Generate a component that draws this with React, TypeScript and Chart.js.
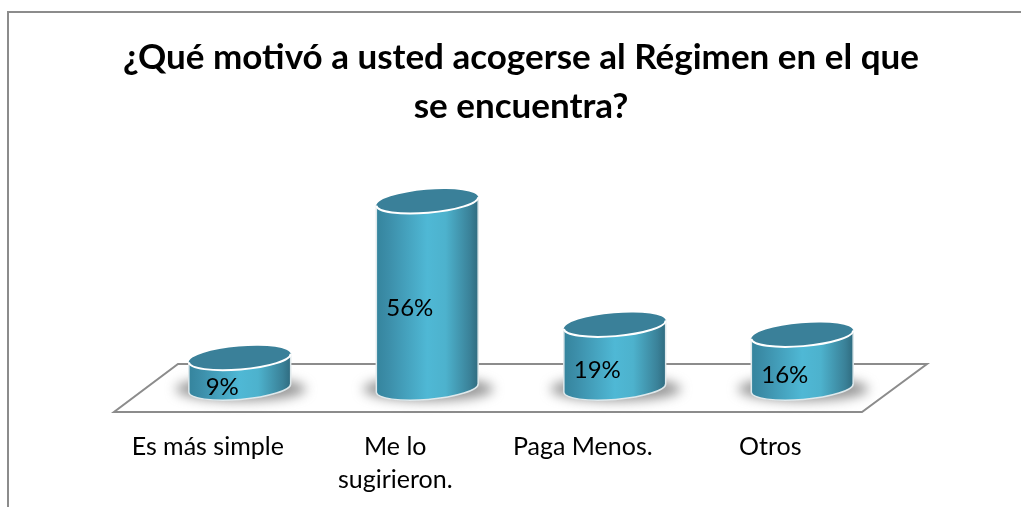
import React, { useEffect, useRef } from "react";
import { Chart, registerables } from "chart.js";

Chart.register(...registerables);

const categories = ["Es más simple", ["Me lo", "sugirieron."], "Paga Menos.", "Otros"];
const percentages = [9, 56, 19, 16];
const titleLines = ["¿Qué motivó a usted acogerse al Régimen en el que", "se encuentra?"];
const FONT = "Lato, 'Open Sans', sans-serif";

const cylinderPlugin = {
  id: "cylinders",
  beforeDatasetsDraw(chart: any) {
    const { ctx, chartArea: a } = chart;
    // frame: open on the right and at the bottom
    ctx.save();
    ctx.strokeStyle = "#8c8c8c";
    ctx.lineWidth = 2;
    ctx.beginPath();
    ctx.moveTo(8, 507);
    ctx.lineTo(8, 12);
    ctx.lineTo(1021, 12);
    ctx.stroke();
    // floor
    ctx.beginPath();
    ctx.moveTo(a.left - 32, a.bottom + 24);
    ctx.lineTo(a.right - 34, a.bottom + 24);
    ctx.lineTo(a.right + 31, a.bottom - 24);
    ctx.lineTo(a.left + 32, a.bottom - 24);
    ctx.closePath();
    ctx.stroke();
    ctx.restore();
  },
  afterDatasetsDraw(chart: any) {
    const { ctx } = chart;
    const meta = chart.getDatasetMeta(0);
    const tilt = (-4.8 * Math.PI) / 180;
    meta.data.forEach((bar: any, i: number) => {
      const cx = bar.x;
      const top = bar.y;
      const bottom = bar.base;
      const rx = bar.width / 2;
      const ry = 11.5;

      // soft floor shadow
      ctx.save();
      ctx.filter = "blur(6px)";
      ctx.fillStyle = "rgba(110,110,110,0.72)";
      ctx.beginPath();
      ctx.ellipse(cx + 1, bottom + 1, rx + 14, 12, 0, 0, Math.PI * 2);
      ctx.fill();
      ctx.restore();

      // body
      const grad = ctx.createLinearGradient(cx - rx, 0, cx + rx, 0);
      grad.addColorStop(0, "#35849d");
      grad.addColorStop(0.12, "#3c8ea9");
      grad.addColorStop(0.5, "#4fb8d5");
      grad.addColorStop(0.68, "#4db2cd");
      grad.addColorStop(0.92, "#3a8198");
      grad.addColorStop(1, "#2f6b7f");
      const dx = rx * Math.cos(tilt);
      const dy = rx * Math.sin(tilt);
      ctx.save();
      ctx.beginPath();
      ctx.moveTo(cx - dx, top - dy);
      ctx.lineTo(cx - dx, bottom - dy);
      ctx.ellipse(cx, bottom, rx, ry, tilt, Math.PI, 0, true);
      ctx.lineTo(cx + dx, top + dy);
      ctx.closePath();
      ctx.fillStyle = grad;
      ctx.fill();
      ctx.strokeStyle = "#dfe9ec";
      ctx.lineWidth = 1.5;
      ctx.stroke();

      // top cap
      ctx.beginPath();
      ctx.ellipse(cx, top, rx, ry, tilt, 0, Math.PI * 2);
      ctx.fillStyle = "#3a8099";
      ctx.fill();
      ctx.strokeStyle = "#ffffff";
      ctx.lineWidth = 2;
      ctx.beginPath();
      ctx.ellipse(cx, top, rx, ry, tilt, 0, Math.PI);
      ctx.stroke();
      ctx.restore();

      // value label
      ctx.save();
      ctx.fillStyle = "#000000";
      ctx.font = `24px ${FONT}`;
      ctx.textAlign = "center";
      ctx.textBaseline = "middle";
      ctx.fillText(`${percentages[i]}%`, cx - 17.5, (top + bottom) / 2 + 14);
      ctx.restore();
    });
  },
};

const hiddenAxis = (position: string, width: number) => ({
  position,
  min: 0,
  max: 60,
  grid: { display: false, drawTicks: false },
  border: { display: false },
  ticks: { display: false },
  afterFit: (s: any) => {
    s.width = width;
  },
});

export default function App() {
  const ref = useRef<HTMLCanvasElement>(null);
  useEffect(() => {
    document.body.style.margin = "0";
    document.body.style.background = "#ffffff";
    const chart = new Chart(ref.current!, {
      type: "bar",
      data: {
        labels: categories as any,
        datasets: [
          {
            data: percentages,
            backgroundColor: "rgba(0,0,0,0)",
            borderWidth: 0,
            barPercentage: 0.545,
            categoryPercentage: 1,
          },
        ],
      },
      options: {
        animation: false,
        responsive: false,
        layout: { padding: { left: 21, right: 0, top: 0, bottom: 0 } },
        plugins: {
          legend: { display: false },
          tooltip: { enabled: false },
          title: {
            display: true,
            text: titleLines,
            color: "#000000",
            font: { family: FONT, size: 35, weight: "bold", lineHeight: 49 / 35 },
            padding: { top: 33, bottom: 57 },
          },
        },
        scales: {
          x: {
            grid: { display: false, drawTicks: false },
            border: { display: false },
            afterFit: (s: any) => {
              s.height = 119;
            },
            ticks: {
              color: "#000000",
              font: { family: FONT, size: 25, lineHeight: 33 / 25 },
              padding: 42,
              labelOffset: -32,
              maxRotation: 0,
              autoSkip: false,
            },
          },
          y: hiddenAxis("left", 125) as any,
          yRight: hiddenAxis("right", 125) as any,
        },
      },
      plugins: [cylinderPlugin],
    });
    return () => chart.destroy();
  }, []);
  return <canvas ref={ref} width={1021} height={507} style={{ display: "block" }} />;
}
